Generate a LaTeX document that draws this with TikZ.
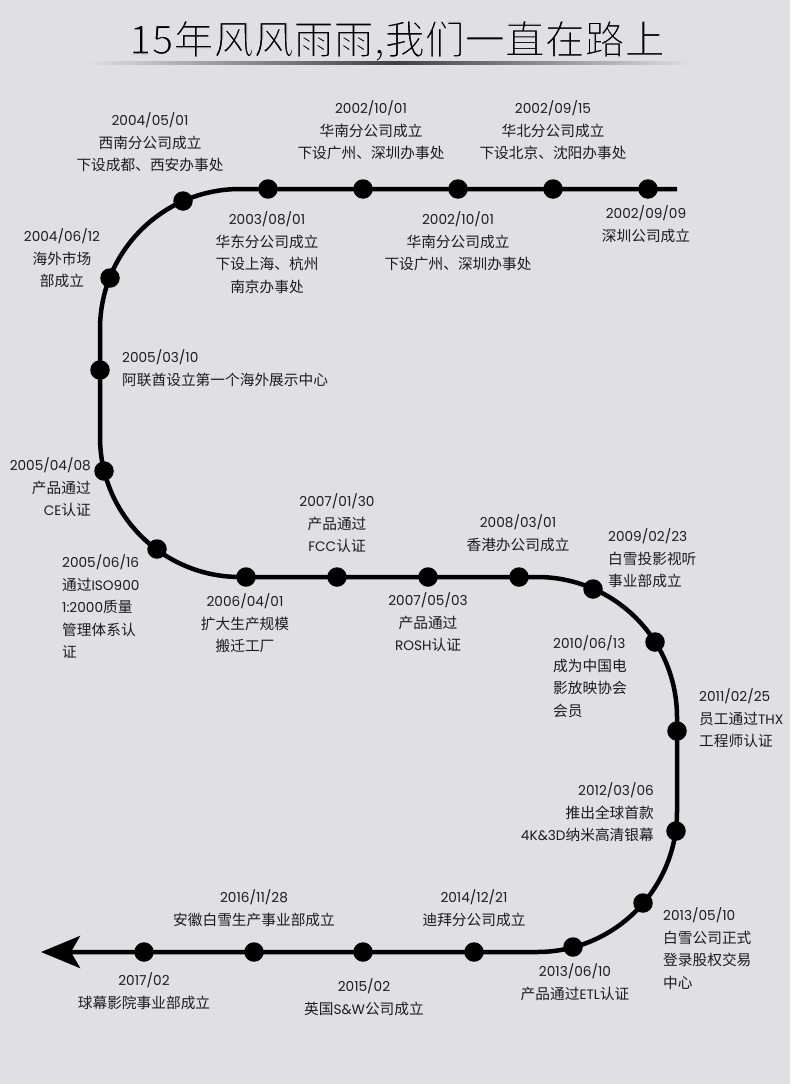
\documentclass[tikz,border=0pt]{standalone}
\usepackage{fontspec}
\usetikzlibrary{arrows.meta}
\newfontfamily\cjk{Noto Sans CJK SC}
\newfontfamily\pop{Poppins}[Scale=0.93]
\newcommand\la[1]{{\pop #1}}
\newcommand\thinon{\special{pdf:literal direct q 2 Tr 1.3 w 0.878 0.875 0.882 RG}}
\newcommand\thinoff{\special{pdf:literal direct Q}}
\definecolor{bgc}{HTML}{E0DFE1}
\definecolor{txt}{HTML}{1C1C1C}
\tikzset{
  dot/.style={circle, fill=black, minimum size=19.5pt, inner sep=0pt},
  lbl/.style={inner sep=0pt, text=txt, font=\cjk\fontsize{14.7}{22.5}\selectfont},
  lc/.style={lbl, align=center, anchor=base},
  ll/.style={lbl, align=left, anchor=base west},
  lr/.style={lbl, align=right, anchor=base east},
  track/.style={line width=4.5pt, rounded corners=140pt},
}
\begin{document}
\begin{tikzpicture}[x=1pt, y=-1pt]
\fill[bgc] (0,0) rectangle (790,1084);
\useasboundingbox (0,0) rectangle (790,1084);
% title
\node[inner sep=0pt, text=black, font=\cjk\fontsize{40}{40}\selectfont] (title) at (397,41) {\thinon 15年风风雨雨,我们一直在路上\thinoff};
\shade[left color=bgc, right color=black!75] (87,61.8) rectangle (395,64.4);
\shade[left color=black!75, right color=bgc] (395,61.8) rectangle (693,64.4);
% track
\coordinate (s) at (677,189);
\coordinate (c1) at (100,189);
\coordinate (c2) at (100,577);
\coordinate (c3) at (677,577);
\coordinate (c4) at (677,952);
\coordinate (e) at (41,952);
\draw[track, -{Stealth[length=39pt,width=32pt,inset=9pt]}] (s) -- (c1) -- (c2) -- (c3) -- (c4) -- (e);
% dots
\node[dot] (d1) at (648,189) {};
\node[dot] (d2) at (553,189) {};
\node[dot] (d3) at (458,189) {};
\node[dot] (d4) at (363,189) {};
\node[dot] (d5) at (268,189) {};
\node[dot] (d6) at (183,201) {};
\node[dot] (d7) at (110,278) {};
\node[dot] (d8) at (100,370) {};
\node[dot] (d9) at (104,471) {};
\node[dot] (d10) at (157,549) {};
\node[dot] (d11) at (246,577) {};
\node[dot] (d12) at (337,577) {};
\node[dot] (d13) at (428,577) {};
\node[dot] (d14) at (519,577) {};
\node[dot] (d15) at (593,589) {};
\node[dot] (d16) at (655,642) {};
\node[dot] (d17) at (677,731) {};
\node[dot] (d18) at (676,831) {};
\node[dot] (d19) at (643,903) {};
\node[dot] (d20) at (573,947) {};
\node[dot] (d21) at (474,952) {};
\node[dot] (d22) at (363,952) {};
\node[dot] (d23) at (254,952) {};
\node[dot] (d24) at (144,952) {};
% labels (anchor = baseline of last line)
\node[lc] (t1) at (646,241.2) {\la{2002/09/09}\\深圳公司成立};
\node[lc] (t2) at (553,158.7) {\la{2002/09/15}\\华北分公司成立\\下设北京、沈阳办事处};
\node[lc] (t3) at (458,269.7) {\la{2002/10/01}\\华南分公司成立\\下设广州、深圳办事处};
\node[lc] (t4) at (371,158.7) {\la{2002/10/01}\\华南分公司成立\\下设广州、深圳办事处};
\node[lc] (t5) at (267,292.2) {\la{2003/08/01}\\华东分公司成立\\下设上海、杭州\\南京办事处};
\node[lc] (t6) at (150,170.7) {\la{2004/05/01}\\西南分公司成立\\下设成都、西安办事处};
\node[lc] (t7) at (62,286.7) {\la{2004/06/12}\\海外市场\\部成立};
\node[ll] (t8) at (122,385.2) {\la{2005/03/10}\\阿联酋设立第一个海外展示中心};
\node[lr] (t9) at (91,515.7) {\la{2005/04/08}\\产品通过\\\la{CE}认证};
\node[ll] (t10) at (62,657.7) {\la{2005/06/16}\\通过\la{ISO900}\\\la{1:2000}质量\\管理体系认\\证};
\node[lc] (t11) at (245,651.7) {\la{2006/04/01}\\扩大生产规模\\搬迁工厂};
\node[lc] (t12) at (337,551.7) {\la{2007/01/30}\\产品通过\\\la{FCC}认证};
\node[lc] (t13) at (428,650.7) {\la{2007/05/03}\\产品通过\\\la{ROSH}认证};
\node[lc] (t14) at (518,550.2) {\la{2008/03/01}\\香港办公司成立};
\node[ll] (t15) at (608,586.7) {\la{2009/02/23}\\白雪投影视听\\事业部成立};
\node[ll] (t16) at (553,716.2) {\la{2010/06/13}\\成为中国电\\影放映协会\\会员};
\node[ll] (t17) at (699,746.7) {\la{2011/02/25}\\员工通过\la{THX}\\工程师认证};
\node[lr] (t18) at (654,840.7) {\la{2012/03/06}\\推出全球首款\\\la{4K\&3D}纳米高清银幕};
\node[ll] (t19) at (663,988.2) {\la{2013/05/10}\\白雪公司正式\\登录股权交易\\中心};
\node[lc] (t20) at (575,999.2) {\la{2013/06/10}\\产品通过\la{ETL}认证};
\node[lc] (t21) at (474,925.2) {\la{2014/12/21}\\迪拜分公司成立};
\node[lc] (t22) at (364,1014.2) {\la{2015/02}\\英国\la{S\&W}公司成立};
\node[lc] (t23) at (254,925.2) {\la{2016/11/28}\\安徽白雪生产事业部成立};
\node[lc] (t24) at (144,1008.2) {\la{2017/02}\\球幕影院事业部成立};
\end{tikzpicture}
\end{document}
